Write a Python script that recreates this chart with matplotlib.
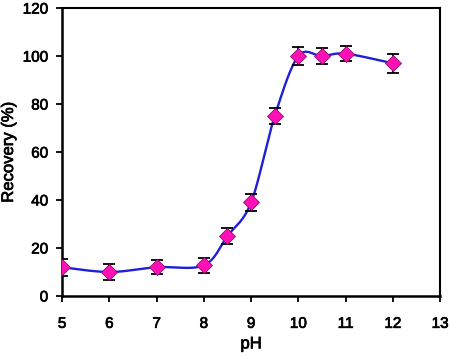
import numpy as np
import matplotlib
matplotlib.use("Agg")
import matplotlib.pyplot as plt
import matplotlib.patheffects as pe

ph = [5, 6, 7, 8, 8.5, 9, 9.5, 10, 10.5, 11, 12]
recovery = [12, 10, 12, 12.8, 25, 39, 75, 100, 100, 101, 97]
err = [3.5, 3.5, 3.0, 3.1, 3.5, 3.4, 3.5, 3.7, 3.4, 3.1, 3.9]

x_ticks = [5, 6, 7, 8, 9, 10, 11, 12, 13]
y_ticks = [0, 20, 40, 60, 80, 100, 120]


def smooth_curve(xs, ys, n=40):
    """Excel-like smoothed line: cubic Bezier with Catmull-Rom control points."""
    p = np.column_stack([xs, ys]).astype(float)
    out = []
    for i in range(len(p) - 1):
        p0 = p[i - 1] if i > 0 else p[i]
        p1 = p[i]
        p2 = p[i + 1]
        p3 = p[i + 2] if i + 2 < len(p) else p[i + 1]
        c1 = p1 + (p2 - p0) / 6.0
        c2 = p2 - (p3 - p1) / 6.0
        t = np.linspace(0, 1, n)[:, None]
        seg = ((1 - t) ** 3) * p1 + 3 * ((1 - t) ** 2) * t * c1 + 3 * (1 - t) * t ** 2 * c2 + t ** 3 * p2
        out.append(seg if i == 0 else seg[1:])
    out = np.vstack(out)
    return out[:, 0], out[:, 1]


plt.rcParams['font.family'] = ['Liberation Sans', 'DejaVu Sans']

fig = plt.figure(figsize=(4.5, 3.53), dpi=100)
ax = fig.add_axes([0.138, 0.1615, 0.840, 0.8155])

sx, sy = smooth_curve(ph, recovery)
ax.plot(sx, sy, color='#1f1fd6', lw=1.7, zorder=2)
ax.errorbar(ph, recovery, yerr=err, fmt='none', ecolor='black', elinewidth=1.3,
            capsize=4, capthick=1.3, zorder=3)
ax.plot(ph, recovery, linestyle='none', marker='D', markersize=8,
        markerfacecolor='#ff10b4', markeredgecolor='#8a1070', markeredgewidth=0.6, zorder=4)

ax.set_xlim(5, 13)
ax.set_ylim(0, 120)
ax.set_xticks(x_ticks)
ax.set_yticks(y_ticks)
ax.tick_params(direction='out', length=4, width=1.3, labelsize=11, pad=6,
               top=False, right=False)
ax.tick_params(axis='x', pad=11)
for s in ax.spines.values():
    s.set_linewidth(1.5)
ax.spines['left'].set_linewidth(1.8)
ax.spines['bottom'].set_linewidth(1.8)

ax.set_xlabel('pH', fontsize=12, labelpad=4)
ax.set_ylabel('Recovery (%)', fontsize=12)
ax.yaxis.set_label_coords(-0.122, 0.5)

# slightly heavier text, like the source image
thick = [pe.withStroke(linewidth=0.5, foreground='black')]
for t in ax.get_xticklabels() + ax.get_yticklabels() + [ax.xaxis.label, ax.yaxis.label]:
    t.set_path_effects(thick)

fig.savefig('out.png', dpi=100)
